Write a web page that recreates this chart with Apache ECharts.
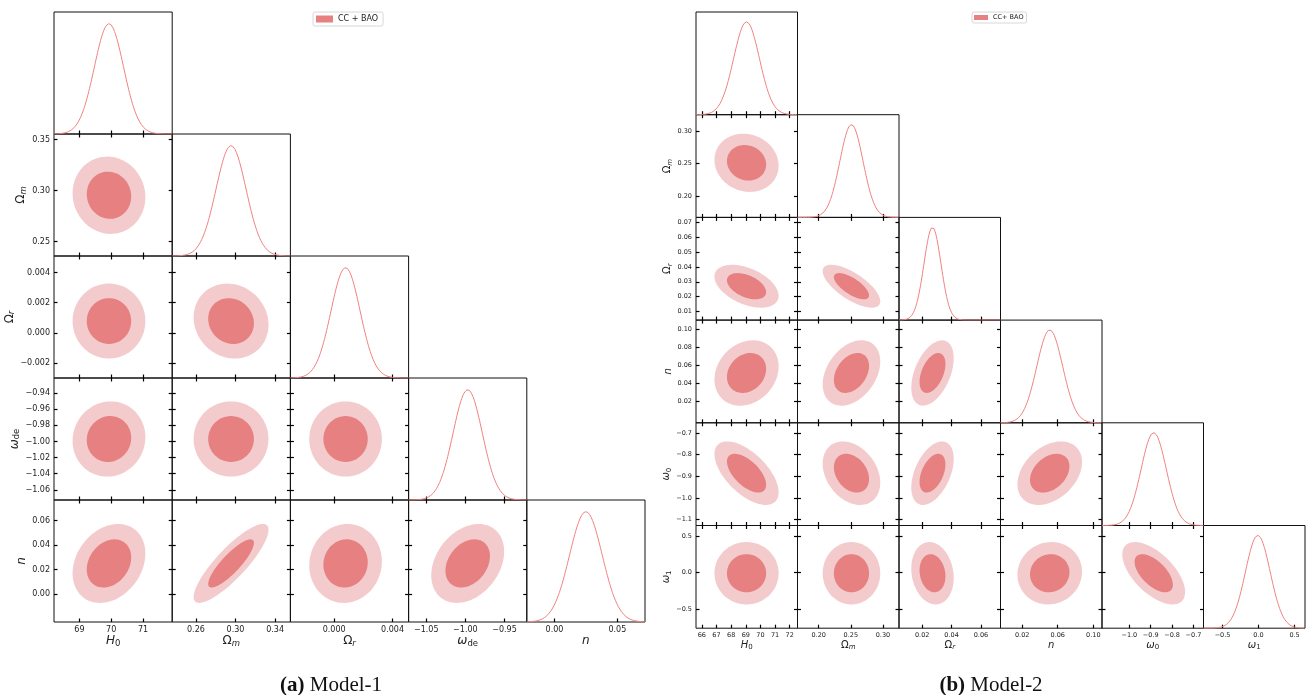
<!DOCTYPE html>
<html>
<head>
<meta charset="utf-8">
<script src="https://cdn.jsdelivr.net/npm/echarts@6/dist/echarts.min.js"></script>
<style>
  html, body { margin: 0; padding: 0; background: #fff; }
  #chart { width: 1307px; height: 695px; }
</style>
</head>
<body>
<div id="chart"></div>
<script>
// ---- Model-1 : H0, Om, Or, w_de, n ----
const m1Names = ['{i|H}{s|0}', '{g|Ω}{si|m}', '{g|Ω}{si|r}', '{i|ω}{s|de}', '{i|n}'];
const m1Mean = [69.93, 0.2955, 0.00078, -0.997, 0.025];
const m1Sigma = [0.46, 0.0152, 0.0010, 0.0187, 0.013];
const m1XMin = [68.2, 0.236, -0.0030, -1.0725, -0.022];
const m1XMax = [71.92, 0.3555, 0.0051, -0.9215, 0.072];
const m1YMin = [68.2, 0.236, -0.0030, -1.0725, -0.023];
const m1YMax = [71.92, 0.3555, 0.0051, -0.9215, 0.077];
const m1XTicks = [[69, 70, 71], [0.26, 0.30, 0.34], [0.000, 0.004], [-1.05, -1.00, -0.95], [0.00, 0.05]];
const m1YTicks = [[], [0.25, 0.30, 0.35], [-0.002, 0.000, 0.002, 0.004],
                  [-1.06, -1.04, -1.02, -1.00, -0.98, -0.96, -0.94], [0.00, 0.02, 0.04, 0.06]];
const m1Dec = [0, 2, 3, 2, 2];
// correlation, lower triangle (row param vs column param)
const m1Corr = [[], [-0.05], [0.0, -0.1], [0.05, 0.0, 0.0], [0.25, 0.85, 0.05, 0.3]];

// ---- Model-2 : H0, Om, Or, n, w0, w1 ----
const m2Names = ['{i|H}{s|0}', '{g|Ω}{si|m}', '{g|Ω}{si|r}', '{i|n}', '{i|ω}{s|0}', '{i|ω}{s|1}'];
const m2Mean = [69.05, 0.251, 0.027, 0.051, -0.886, -0.01];
const m2Sigma = [0.88, 0.018, 0.0058, 0.0146, 0.059, 0.172];
const m2XMin = [65.6, 0.167, 0.0042, -0.0044, -1.128, -0.764];
const m2XMax = [72.53, 0.325, 0.0733, 0.1098, -0.653, 0.645];
const m2XTicks = [[66, 67, 68, 69, 70, 71, 72], [0.20, 0.25, 0.30], [0.02, 0.04, 0.06],
                  [0.02, 0.06, 0.10], [-1.0, -0.9, -0.8, -0.7], [-0.5, 0.0, 0.5]];
const m2YTicks = [[], [0.20, 0.25, 0.30], [0.01, 0.02, 0.03, 0.04, 0.05, 0.06, 0.07],
                  [0.02, 0.04, 0.06, 0.08, 0.10], [-1.1, -1.0, -0.9, -0.8, -0.7], [-0.5, 0.0, 0.5]];
const m2Dec = [0, 2, 2, 2, 1, 1];
const m2Corr = [[], [-0.1], [-0.45, -0.7], [0.2, 0.35, 0.45], [-0.6, -0.3, 0.45, 0.35], [0.0, 0.0, -0.15, 0.05, -0.6]];

const DARK = '#e78080';
const LIGHT = '#f3cbcc';
const LINE = '#f08080';
const K1 = 1.52, K2 = 2.49;   // 68% / 95% radii of a 2D gaussian

const models = [
  { names: m1Names, mean: m1Mean, sigma: m1Sigma, xMin: m1XMin, xMax: m1XMax, yMin: m1YMin, yMax: m1YMax,
    xTicks: m1XTicks, yTicks: m1YTicks, dec: m1Dec, corr: m1Corr, legend: 'CC + BAO',
    x0: 54, y0: 12, w: 118.2, h: 122, tickFont: 8, nameFont: 12, subFont: 8.5,
    xNameGap: 12, yNameGap: 25 },
  { names: m2Names, mean: m2Mean, sigma: m2Sigma, xMin: m2XMin, xMax: m2XMax, yMin: m2XMin, yMax: m2XMax,
    xTicks: m2XTicks, yTicks: m2YTicks, dec: m2Dec, corr: m2Corr, legend: 'CC+ BAO',
    x0: 696, y0: 12, w: 101.5, h: 102.7, tickFont: 6.5, nameFont: 10, subFont: 7,
    xNameGap: 9, yNameGap: 21 }
];

const fmt = (v, d) => (v < -1e-12 ? '\u2212' : '') + Math.abs(v).toFixed(d);

function richFor(M) {
  return {
    i: { fontFamily: 'DejaVu Sans', fontStyle: 'italic', fontSize: M.nameFont, color: '#222' },
    g: { fontFamily: 'DejaVu Sans', fontSize: M.nameFont, color: '#222' },
    s: { fontFamily: 'DejaVu Sans', fontSize: M.subFont, color: '#222', padding: [5, 0, 0, 0] },
    si: { fontFamily: 'DejaVu Sans', fontStyle: 'italic', fontSize: M.subFont, color: '#222', padding: [5, 0, 0, 0] }
  };
}

function tickCfg(vals) {
  return { show: true, inside: true, length: 3.5, customValues: vals, lineStyle: { color: '#000', width: 1.2 } };
}

function xAxisCfg(M, g, p, pos, showLabel) {
  return {
    type: 'value', gridIndex: g, position: pos, min: M.xMin[p], max: M.xMax[p],
    axisLine: { show: false, onZero: false }, splitLine: { show: false },
    axisTick: tickCfg(M.xTicks[p]),
    axisLabel: { show: showLabel, customValues: M.xTicks[p], margin: 4, fontSize: M.tickFont,
                 fontFamily: 'DejaVu Sans', color: '#222', formatter: v => fmt(v, M.dec[p]) },
    name: showLabel ? M.names[p] : '', nameLocation: 'middle', nameGap: M.xNameGap,
    nameTextStyle: { rich: richFor(M) }
  };
}

function yAxisCfg(M, g, p, pos, showLabel) {
  return {
    type: 'value', gridIndex: g, position: pos, min: M.yMin[p], max: M.yMax[p],
    axisLine: { show: false, onZero: false }, splitLine: { show: false },
    axisTick: tickCfg(M.yTicks[p]),
    axisLabel: { show: showLabel, customValues: M.yTicks[p], margin: 4, fontSize: M.tickFont,
                 fontFamily: 'DejaVu Sans', color: '#222', formatter: v => fmt(v, M.dec[p]) },
    name: showLabel ? M.names[p] : '', nameLocation: 'middle', nameGap: M.yNameGap, nameRotate: 90,
    nameTextStyle: { rich: richFor(M) }
  };
}

function ellipse(mx, my, sx, sy, rho, k) {
  const out = [];
  const q = Math.sqrt(1 - rho * rho);
  for (let t = 0; t < 90; t++) {
    const a = 2 * Math.PI * t / 90;
    const u = Math.cos(a), v = Math.sin(a);
    out.push([mx + k * sx * u, my + k * sy * (rho * u + q * v)]);
  }
  return out;
}

function polySeries(pts, color, xi, yi, name) {
  return {
    type: 'custom', name: name, xAxisIndex: xi, yAxisIndex: yi, silent: true,
    itemStyle: { color: color },
    data: [pts[0]],
    renderItem: (params, api) => ({
      type: 'polygon',
      shape: { points: pts.map(p => api.coord(p)) },
      style: { fill: color, stroke: null }
    })
  };
}

const grids = [], xAxes = [], yAxes = [], series = [];

models.forEach(M => {
  const n = M.mean.length;
  let named = false;
  for (let r = 0; r < n; r++) {
    for (let c = 0; c <= r; c++) {
      const g = grids.length;
      grids.push({ left: M.x0 + c * M.w, top: M.y0 + r * M.h, width: M.w, height: M.h,
                   show: true, borderColor: '#111', borderWidth: 1, backgroundColor: 'transparent' });
      const diag = r === c;
      const xi = xAxes.length;
      xAxes.push(xAxisCfg(M, g, c, 'bottom', r === n - 1));
      if (!diag) xAxes.push(xAxisCfg(M, g, c, 'top', false));
      const yi = yAxes.length;
      if (diag) {
        yAxes.push({ type: 'value', gridIndex: g, min: 0, max: 1.106, show: false });
        const pts = [];
        const N = 160;
        for (let k = 0; k <= N; k++) {
          const x = M.xMin[c] + (M.xMax[c] - M.xMin[c]) * k / N;
          const z = (x - M.mean[c]) / M.sigma[c];
          pts.push([x, Math.exp(-0.5 * z * z)]);
        }
        series.push({ type: 'line', xAxisIndex: xi, yAxisIndex: yi, data: pts, symbol: 'none',
                      silent: true, lineStyle: { color: LINE, width: 1 }, itemStyle: { color: LINE } });
      } else {
        yAxes.push(yAxisCfg(M, g, r, 'left', c === 0));
        yAxes.push(yAxisCfg(M, g, r, 'right', false));
        const rho = M.corr[r][c];
        series.push(polySeries(ellipse(M.mean[c], M.mean[r], M.sigma[c], M.sigma[r], rho, K2), LIGHT, xi, yi));
        series.push(polySeries(ellipse(M.mean[c], M.mean[r], M.sigma[c], M.sigma[r], rho, K1), DARK, xi, yi,
                               named ? undefined : M.legend));
        named = true;
      }
    }
  }
});

const legendBase = {
  orient: 'horizontal', selectedMode: false, borderColor: '#d8d8d8', borderWidth: 1, borderRadius: 2,
  icon: 'rect', itemGap: 4
};

const captionRich = {
  b: { fontFamily: 'Liberation Serif', fontWeight: 'bold', fontSize: 21, color: '#111' },
  r: { fontFamily: 'Liberation Serif', fontWeight: 'normal', fontSize: 21, color: '#111' }
};

const option = {
  animation: false,
  backgroundColor: '#fff',
  title: [
    { text: '{b|(a)} {r|Model-1}', left: 326, top: 670, textAlign: 'center',
      textStyle: { fontWeight: 'normal', fontFamily: 'Liberation Serif', fontSize: 21, rich: captionRich } },
    { text: '{b|(b)} {r|Model-2}', left: 986, top: 670, textAlign: 'center',
      textStyle: { fontWeight: 'normal', fontFamily: 'Liberation Serif', fontSize: 21, rich: captionRich } }
  ],
  legend: [
    Object.assign({}, legendBase, { data: [{ name: 'CC + BAO', icon: 'rect' }], left: 313, top: 12,
      padding: [3, 5, 3, 3], itemWidth: 17, itemHeight: 7,
      textStyle: { fontFamily: 'DejaVu Sans', fontSize: 8, color: '#222' } }),
    Object.assign({}, legendBase, { data: [{ name: 'CC+ BAO', icon: 'rect' }], left: 972, top: 12,
      padding: [2, 3, 2, 2], itemWidth: 14, itemHeight: 5,
      textStyle: { fontFamily: 'DejaVu Sans', fontSize: 6.5, color: '#222' } })
  ],
  grid: grids,
  xAxis: xAxes,
  yAxis: yAxes,
  series: series
};

const chart = echarts.init(document.getElementById('chart'));
chart.setOption(option);
</script>
</body>
</html>
